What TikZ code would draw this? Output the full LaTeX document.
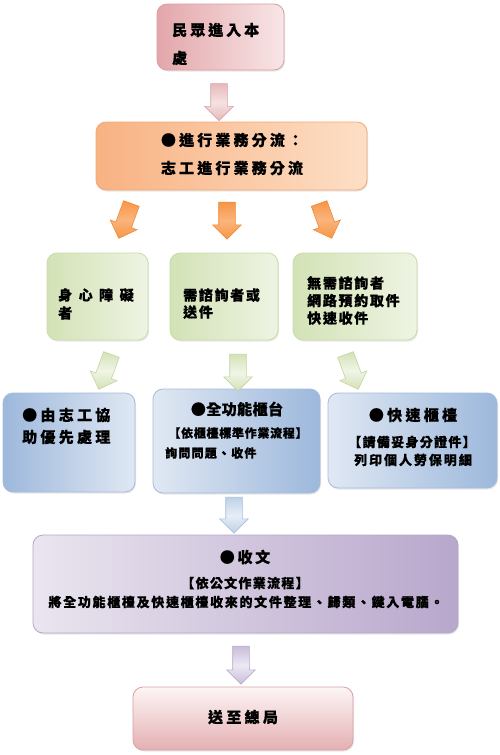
\documentclass[tikz,border=0pt]{standalone}
\usepackage{fontspec}
\newfontfamily\cjk{Noto Sans CJK TC}
\usetikzlibrary{shapes.arrows,shadows}
\newcommand\fa[3]{\cjk\bfseries\fontsize{#1}{#3}\selectfont\addfontfeature{LetterSpace=#2,FakeBold=0.6}}
% box colours
\definecolor{pkB}{HTML}{D99EA2}\definecolor{pkD}{HTML}{E3A6AA}\definecolor{pkL}{HTML}{F8E6E7}
\definecolor{orB}{HTML}{F3A874}\definecolor{orD}{HTML}{F8B282}\definecolor{orL}{HTML}{FDDFC6}
\definecolor{grB}{HTML}{CADCA7}\definecolor{grD}{HTML}{D3E2B6}\definecolor{grL}{HTML}{EEF4E3}
\definecolor{blB}{HTML}{A3BCDC}\definecolor{blD}{HTML}{9DB8DC}\definecolor{blL}{HTML}{E0E8F3}
\definecolor{puB}{HTML}{B6A7CA}\definecolor{puD}{HTML}{B8A7CC}\definecolor{puL}{HTML}{EAE5EF}
\definecolor{epB}{HTML}{D9A0A4}\definecolor{epD}{HTML}{E4B0B3}\definecolor{epL}{HTML}{FDF5F5}
% arrow colours
\definecolor{apB}{HTML}{D9A3A6}\definecolor{apD}{HTML}{E6B9BB}\definecolor{apL}{HTML}{F6E1E2}
\definecolor{aoB}{HTML}{F08A38}\definecolor{aoD}{HTML}{F79646}\definecolor{aoL}{HTML}{FAB47C}
\definecolor{agB}{HTML}{C3D69B}\definecolor{agD}{HTML}{D3E2B7}\definecolor{agL}{HTML}{F0F5E6}
\definecolor{abB}{HTML}{A7BFDD}\definecolor{abD}{HTML}{BFD1E8}\definecolor{abL}{HTML}{E6EDF6}
\definecolor{aqB}{HTML}{B7A9CC}\definecolor{aqD}{HTML}{C9BEDB}\definecolor{aqL}{HTML}{ECE8F2}
\tikzset{
  box/.style={draw, rounded corners=10pt, line width=0.8pt, inner sep=0pt,
    drop shadow={opacity=0.18, shadow xshift=1pt, shadow yshift=-1.5pt}},
  txt/.style={inner sep=0pt, text=black},
  blk/.style={single arrow, draw, inner xsep=0pt, inner ysep=8pt, minimum height=37pt,
    single arrow head extend=6pt, line width=0.6pt},
  blkcol/.style n args={3}{draw=#1, top color=#2, bottom color=#2, middle color=#3}
}
\begin{document}
\begin{tikzpicture}[x=1pt,y=-1pt]
\useasboundingbox (0,0) rectangle (500,755);
\fill[white] (0,0) rectangle (500,755);

% ---- boxes ----
\node[box, draw=pkB, left color=pkD, right color=pkL, minimum width=127pt, minimum height=66pt] (b1) at (220.5,37) {};
\node[box, draw=orB, left color=orD, right color=orL, minimum width=271pt, minimum height=68pt] (b2) at (231.5,156) {};
\node[box, draw=grB, left color=grD, right color=grL, minimum width=101pt, minimum height=87pt] (gA) at (97.5,296.5) {};
\node[box, draw=grB, left color=grD, right color=grL, minimum width=108pt, minimum height=87pt] (gB) at (224,296.5) {};
\node[box, draw=grB, left color=grD, right color=grL, minimum width=124pt, minimum height=87pt] (gC) at (355,296.5) {};
\node[box, draw=blB, left color=blD, right color=blL, minimum width=132pt, minimum height=99pt] (bA) at (69,442.5) {};
\node[box, draw=blB, left color=blL, right color=blD, minimum width=167pt, minimum height=104pt] (bB) at (236.5,441) {};
\node[box, draw=blB, left color=blL, right color=blD, minimum width=169pt, minimum height=95pt] (bC) at (412.5,440.5) {};
\node[box, draw=puB, left color=puL, right color=puD, minimum width=425pt, minimum height=98pt] (pu) at (245.5,584) {};
\node[box, draw=epB, top color=epL, bottom color=epD, minimum width=220pt, minimum height=63pt] (en) at (243,718.5) {};

% ---- texts ----
\node[txt, font={\fa{15}{20}{28}}, anchor=west, align=left] (t1) at (172,44) {民眾進入本\\處};
\node[txt, font={\fa{15}{21}{28}}, align=center] (t2) at (232,154) {●進行業務分流：\\志工進行業務分流};
\node[txt, font={\fa{14}{12}{18}}, anchor=west, align=left] (tA) at (58,304) {身\hspace{6.5pt}心\hspace{6.5pt}障\hspace{6.5pt}礙\\者};
\node[txt, font={\fa{14}{12}{17}}, anchor=west, align=left] (tB) at (183,303.5) {需諮詢者或\\送件};
\node[txt, font={\fa{14}{12}{17.5}}, anchor=west, align=left] (tC) at (307,300.5) {無需諮詢者\\網路預約取件\\快速收件};
\node[txt, font={\fa{15}{22}{22}}, anchor=west, align=left] (uA) at (22,426) {●由志工協\\助優先處理};
\node[txt, font={\fa{15}{3}{20}}] (uB1) at (237,409) {●全功能櫃台};
\node[txt, font={\fa{12}{6}{20}}] (uB2) at (238,433) {【依櫃檯標準作業流程】};
\node[txt, font={\fa{12}{10}{20}}, anchor=west] (uB3) at (165,453) {詢問問題、收件};
\node[txt, font={\fa{15}{22}{20}}] (uC1) at (413,415) {●快速櫃檯};
\node[txt, font={\fa{13}{10}{20}}] (uC2) at (412,442) {【請備妥身分證件】};
\node[txt, font={\fa{13}{15}{20}}] (uC3) at (413,460) {列印個人勞保明細};
\node[txt, font={\fa{15}{18}{20}}] (p1) at (245,557) {●收文};
\node[txt, font={\fa{13}{10}{20}}] (p2) at (245,583) {【依公文作業流程】};
\node[txt, font={\fa{13}{13}{20}}] (p3) at (246,602) {將全功能櫃檯及快速櫃檯收來的文件整理、歸類、鍵入電腦。};
\node[txt, font={\fa{15}{22}{20}}] (te) at (243,717) {送至總局};

% ---- block arrows ----
\node[blk, blkcol={apB}{apD}{apL}, rotate=-90] (a1) at (219,98) {};
\node[blk, blkcol={aoB}{aoD}{aoL}, rotate=-110] (a2) at (126.5,217) {};
\node[blk, blkcol={aoB}{aoD}{aoL}, rotate=-90] (a3) at (227,216.5) {};
\node[blk, blkcol={aoB}{aoD}{aoL}, rotate=-70] (a4) at (324,217) {};
\node[blk, blkcol={agB}{agD}{agL}, rotate=-110] (a5) at (106.5,368) {};
\node[blk, blkcol={agB}{agD}{agL}, rotate=-90] (a6) at (238,368.5) {};
\node[blk, blkcol={agB}{agD}{agL}, rotate=-70] (a7) at (350.5,368) {};
\node[blk, blkcol={abB}{abD}{abL}, rotate=-90, minimum height=36pt] (a8) at (234,511) {};
\node[blk, blkcol={aqB}{aqD}{aqL}, rotate=-90, minimum height=38pt] (a9) at (241,661) {};
\end{tikzpicture}
\end{document}
